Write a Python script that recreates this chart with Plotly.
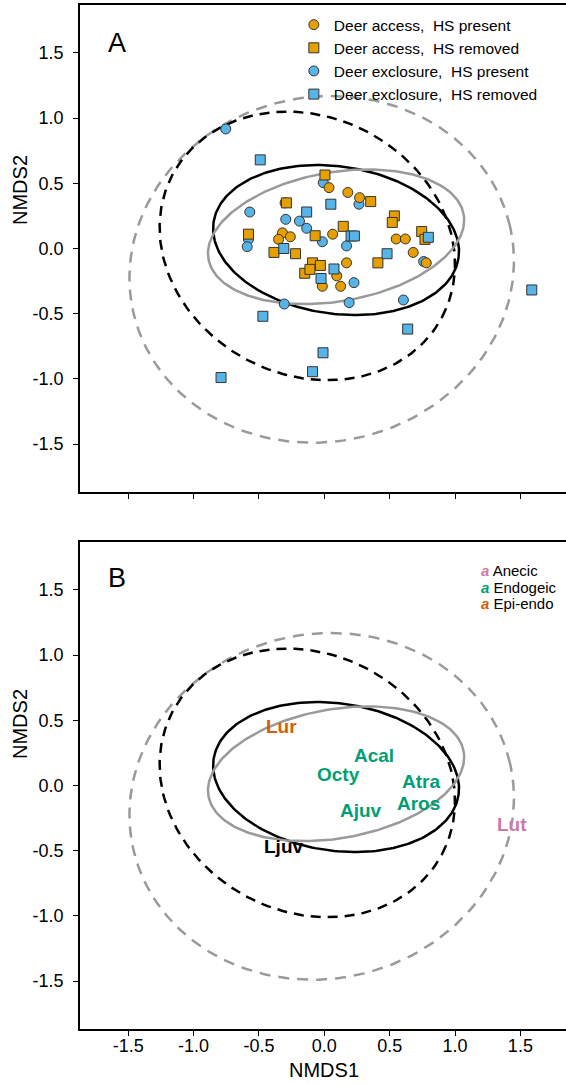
import numpy as np
import plotly.graph_objects as go

# ---------------- data ----------------
# Panel A: site scores (NMDS1, NMDS2)
acc_present_x = [0.036, 0.18, 0.27, -0.32, -0.35, -0.26, 0.064, 0.55, 0.62, 0.68, 0.78, 0.17, 0.095, -0.015, 0.125, -0.30]
acc_present_y = [0.467, 0.43, 0.39, 0.12, 0.07, 0.09, 0.11, 0.073, 0.073, -0.03, -0.11, -0.11, -0.21, -0.29, -0.29, 0.35]

acc_removed_x = [0.005, 0.355, -0.29, 0.536, 0.52, 0.145, -0.07, -0.58, -0.385, -0.22, 0.745, 0.77, 0.41, -0.09, -0.03, -0.15, -0.11]
acc_removed_y = [0.564, 0.36, 0.35, 0.25, 0.20, 0.17, 0.098, 0.11, -0.03, -0.04, 0.13, 0.07, -0.11, -0.11, -0.13, -0.19, -0.16]

exc_present_x = [-0.754, -0.008, 0.265, -0.57, -0.295, -0.19, -0.135, -0.015, 0.17, -0.58, -0.59, 0.76, 0.227, -0.306, 0.19, 0.605]
exc_present_y = [0.917, 0.505, 0.34, 0.28, 0.224, 0.21, 0.155, 0.052, 0.02, 0.07, 0.014, -0.10, -0.262, -0.426, -0.415, -0.395]

exc_removed_x = [-0.49, 0.05, -0.135, 0.205, 0.23, -0.31, 0.48, 0.074, -0.025, -0.47, 0.796, 0.638, 1.587, -0.79, -0.09, -0.01]
exc_removed_y = [0.68, 0.34, 0.28, 0.096, 0.096, 0.0, -0.04, -0.157, -0.23, -0.52, 0.086, -0.618, -0.318, -0.99, -0.945, -0.80]

# Ellipses: centre x, centre y, semi-axis a, semi-axis b, rotation (deg)
ell_black_solid = [0.09, 0.065, 0.947, 0.565, -8.3]
ell_gray_solid = [0.09, 0.09, 0.991, 0.495, 9.9]
ell_black_dash = [-0.13, 0.02, 1.167, 0.988, -28.0]
ell_gray_dash = [-0.02, -0.16, 1.478, 1.322, 13.0]

# Panel B: species scores
species = ["Lur", "Acal", "Octy", "Atra", "Aros", "Ajuv", "Lut", "Ljuv"]
species_x = [-0.326, 0.38, 0.107, 0.737, 0.72, 0.278, 1.434, -0.314]
species_y = [0.455, 0.228, 0.087, 0.031, -0.137, -0.194, -0.296, -0.465]
species_group = ["Epi-endo", "Endogeic", "Endogeic", "Endogeic", "Endogeic", "Endogeic", "Anecic", "none"]
group_names = ["Anecic", "Endogeic", "Epi-endo"]
group_colors = {"Anecic": "#CC79A7", "Endogeic": "#009E73", "Epi-endo": "#D55E00", "none": "#000000"}

tick_vals = [-1.5, -1.0, -0.5, 0.0, 0.5, 1.0, 1.5]
tick_text = ["-1.5", "-1.0", "-0.5", "0.0", "0.5", "1.0", "1.5"]

# ---------------- figure ----------------
ORANGE = "#E69F00"
BLUE = "#56B4E9"
EDGE = "#333333"
GRAY = "#9A9A9A"
FONT = "Liberation Sans, Arial, sans-serif"


def ellipse(p, n=240):
    cx, cy, a, b, ang = p
    t = np.linspace(0, 2 * np.pi, n)
    th = np.deg2rad(ang)
    x = cx + a * np.cos(t) * np.cos(th) - b * np.sin(t) * np.sin(th)
    y = cy + a * np.cos(t) * np.sin(th) + b * np.sin(t) * np.cos(th)
    return x, y


fig = go.Figure()

ell_styles = [
    (ell_gray_dash, GRAY, "11px,8px"),
    (ell_black_dash, "black", "10px,7px"),
    (ell_black_solid, "black", "solid"),
    (ell_gray_solid, GRAY, "solid"),
]
for xa, ya in [("x", "y"), ("x2", "y2")]:
    for p, col, dash in ell_styles:
        ex, ey = ellipse(p)
        fig.add_trace(go.Scatter(x=ex, y=ey, mode="lines", xaxis=xa, yaxis=ya,
                                 line=dict(color=col, width=2.5, dash=dash),
                                 showlegend=False, hoverinfo="skip"))

groups = [
    ("Deer exclosure,\u00a0 HS present", exc_present_x, exc_present_y, BLUE, "circle", 3),
    ("Deer access,\u00a0 HS present", acc_present_x, acc_present_y, ORANGE, "circle", 1),
    ("Deer access,\u00a0 HS removed", acc_removed_x, acc_removed_y, ORANGE, "square", 2),
    ("Deer exclosure,\u00a0 HS removed", exc_removed_x, exc_removed_y, BLUE, "square", 4),
]
for name, gx, gy, col, sym, rank in groups:
    fig.add_trace(go.Scatter(x=gx, y=gy, mode="markers", name=name, legendrank=rank,
                             xaxis="x", yaxis="y",
                             marker=dict(color=col, symbol=sym, size=10,
                                         line=dict(color=EDGE, width=1))))

# species labels panel B
for s, sx, sy, g in zip(species, species_x, species_y, species_group):
    fig.add_annotation(x=sx, y=sy, xref="x2", yref="y2", text="<b>%s</b>" % s,
                       xanchor="center", yanchor="middle",
                       showarrow=False, font=dict(family=FONT, size=19, color=group_colors[g]))

# legend panel B
leg_y = [0.4473, 0.4316, 0.4160]
for g, ly in zip(group_names, leg_y):
    fig.add_annotation(x=0.821, y=ly, xref="paper", yref="paper", xanchor="left", yanchor="middle",
                       text="<span style='color:%s'><b><i>a</i></b></span> %s" % (group_colors[g], g),
                       showarrow=False, font=dict(family=FONT, size=15, color="black"))

# panel letters
fig.add_annotation(x=0.0761, y=0.9629, xref="paper", yref="paper", text="A", showarrow=False,
                   xanchor="center", yanchor="middle",
                   font=dict(family=FONT, size=27, color="black"))
fig.add_annotation(x=0.0761, y=0.4404, xref="paper", yref="paper", text="B", showarrow=False,
                   xanchor="center", yanchor="middle",
                   font=dict(family=FONT, size=27, color="black"))

# axis titles
fig.add_annotation(x=-0.1235, y=(1029 - 190) / 1024, xref="paper", yref="paper", text="NMDS2", textangle=-90,
                   xanchor="center", yanchor="middle",
                   showarrow=False, font=dict(family=FONT, size=20, color="black"))
fig.add_annotation(x=-0.1235, y=(1029 - 724) / 1024, xref="paper", yref="paper", text="NMDS2", textangle=-90,
                   xanchor="center", yanchor="middle",
                   showarrow=False, font=dict(family=FONT, size=20, color="black"))
fig.add_annotation(x=0.5027, y=-0.040, xref="paper", yref="paper", text="NMDS1",
                   xanchor="center", yanchor="middle",
                   showarrow=False, font=dict(family=FONT, size=20, color="black"))

axis_common = dict(range=[-1.869, 1.849], tickvals=tick_vals, ticktext=tick_text,
                   showline=True, linecolor="black", linewidth=1.6, ticks="outside", ticklen=5,
                   tickwidth=1, tickcolor="black", showgrid=False, zeroline=False,
                   tickfont=dict(family=FONT, size=18, color="black"))
xaxis_common = dict(axis_common)
xaxis_common["ticklabelstandoff"] = -5
yaxis_common = dict(axis_common)
yaxis_common["range"] = [-1.868, 1.868]
yaxis_common["ticklabelstandoff"] = 6

fig.update_layout(
    width=566, height=1084,
    margin=dict(l=80, r=0, t=5, b=55),
    paper_bgcolor="white", plot_bgcolor="white",
    font=dict(family=FONT, color="black"),
    xaxis=dict(xaxis_common, anchor="y", mirror=True, showticklabels=False),
    yaxis=dict(yaxis_common, domain=[0.5244, 1.0], anchor="x"),
    xaxis2=dict(xaxis_common, anchor="y2", mirror=True),
    yaxis2=dict(yaxis_common, domain=[0.0, 0.4756], anchor="x2"),
    legend=dict(x=0.44, y=0.997, xanchor="left", yanchor="top", bgcolor="rgba(0,0,0,0)",
                font=dict(family=FONT, size=15.5, color="black"), itemwidth=30),
    showlegend=True,
)

fig.write_html("out.html", config={"displayModeBar": False},
               post_script="document.body.style.margin='0px';")
